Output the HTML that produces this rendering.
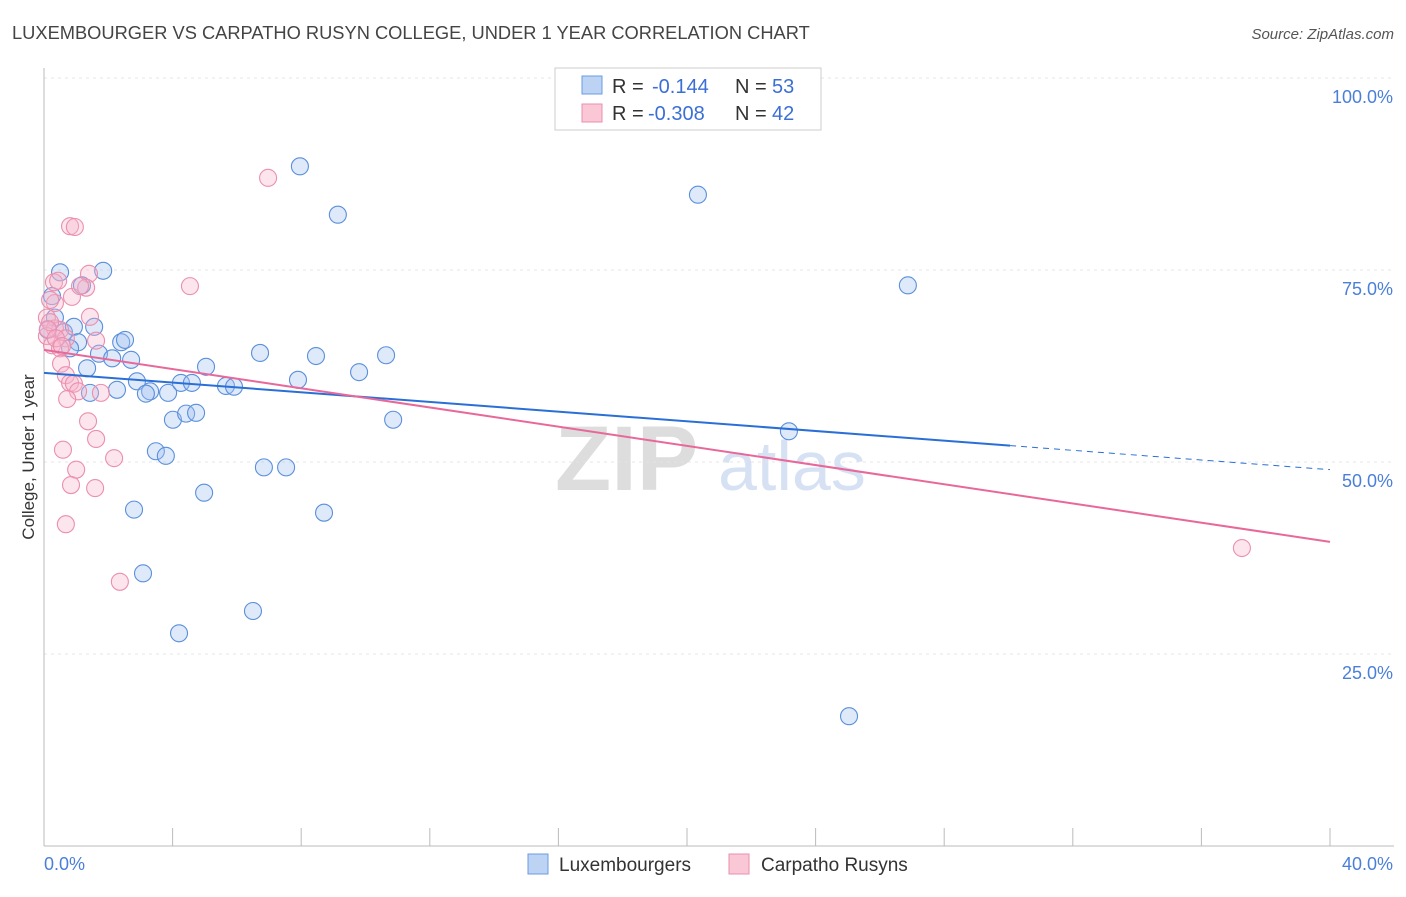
<!DOCTYPE html>
<html><head><meta charset="utf-8"><style>
body{margin:0;background:#fff;font-family:"Liberation Sans",sans-serif;}
svg text{font-family:"Liberation Sans",sans-serif;}
</style></head><body>
<svg id="chart" width="1406" height="892" xmlns="http://www.w3.org/2000/svg">
<text x="12" y="39" font-size="18.3" fill="#444">LUXEMBOURGER VS CARPATHO RUSYN COLLEGE, UNDER 1 YEAR CORRELATION CHART</text>
<text x="1394" y="39" font-size="15" fill="#555" text-anchor="end" font-style="italic">Source: ZipAtlas.com</text>
<g>
<text x="555" y="490" font-size="92" fill="#ddd" font-family="Liberation Serif" font-weight="bold">ZIP</text>
<text x="718" y="490" font-size="70" fill="#d6e2f4">atlas</text>
</g>
<g id="grid"></g>
<g id="axes"></g>
<g id="marks"></g>
<g>
<rect x="555" y="68" width="266" height="62" fill="#fff" stroke="#ccc"/>
<rect x="582" y="76" width="20" height="18" fill="#bcd3f3" stroke="#6a9be0"/>
<rect x="582" y="104" width="20" height="18" fill="#f9c7d6" stroke="#ea8fac"/>
<text x="612" y="93" font-size="20" fill="#333">R =</text>
<text x="652" y="93" font-size="20" fill="#3b6fd6">-0.144</text>
<text x="735" y="93" font-size="20" fill="#333">N =</text>
<text x="772" y="93" font-size="20" fill="#3b6fd6">53</text>
<text x="612" y="120" font-size="20" fill="#333">R =</text>
<text x="648" y="120" font-size="20" fill="#3b6fd6">-0.308</text>
<text x="735" y="120" font-size="20" fill="#333">N =</text>
<text x="772" y="120" font-size="20" fill="#3b6fd6">42</text>
</g>
<text transform="translate(34,457) rotate(-90)" font-size="17" fill="#333" text-anchor="middle">College, Under 1 year</text>
<g>
<rect x="528" y="854" width="20" height="20" fill="#bcd3f3" stroke="#6a9be0"/>
<text x="559" y="871" font-size="19" fill="#333">Luxembourgers</text>
<rect x="729" y="854" width="20" height="20" fill="#f9c7d6" stroke="#ea8fac"/>
<text x="761" y="871" font-size="19" fill="#333">Carpatho Rusyns</text>
</g>
</svg>
<script>
const blueX=[7.96,9.14,20.34,26.87,0.50,1.84,1.18,0.25,0.34,0.12,0.62,0.93,1.56,1.06,0.81,2.40,2.52,1.71,2.12,2.71,1.34,5.04,6.72,8.46,10.64,9.80,2.89,2.27,1.43,3.30,3.17,3.86,4.26,4.60,5.66,5.91,7.90,4.01,4.42,4.73,10.86,23.17,3.48,3.79,6.84,7.53,4.98,2.80,8.71,3.08,6.50,4.20,25.04];
const blueY=[88.5,82.2,84.8,73.0,74.7,74.9,73.0,71.6,68.8,67.2,66.9,67.6,67.6,65.6,64.8,65.6,65.9,64.1,63.5,63.3,62.2,62.4,64.2,63.8,63.9,61.7,60.5,59.4,59.0,59.2,58.9,59.0,60.3,60.3,59.9,59.8,60.7,55.5,56.3,56.4,55.5,54.0,51.4,50.8,49.3,49.3,46.0,43.8,43.4,35.5,30.6,27.7,16.9];
const pinkX=[6.97,0.81,0.96,0.31,0.44,1.40,4.54,1.31,0.87,0.34,0.09,1.43,0.34,0.50,0.09,0.68,1.62,0.25,0.50,0.53,0.68,0.81,0.93,1.06,1.77,0.72,1.37,1.62,0.59,1.00,2.18,0.84,1.59,0.68,2.36,37.26,0.19,0.12,0.37,0.56,0.19,1.12];
const pinkY=[87.0,80.7,80.6,73.4,73.6,74.5,72.9,72.7,71.5,70.7,68.8,68.9,67.4,67.2,66.4,66.1,65.8,65.2,64.8,62.8,61.3,60.3,60.2,59.2,59.0,58.2,55.3,53.0,51.6,49.0,50.5,47.0,46.6,41.9,34.4,38.8,68.2,67.3,66.1,65.1,71.1,72.9];
const blueTrend=[61.6,49.0];
const pinkTrend=[64.6,39.6];
const yTicks=[25,50,75,100];
const yTickLabels=["25.0%","50.0%","75.0%","100.0%"];
const xTicks=[0,4,8,12,16,20,24,28,32,36,40];

const NS="http://www.w3.org/2000/svg";
const X=v=>44+v/40*1286;
const Y=v=>846-v/100*768;
function mk(parent,tag,attrs){const e=document.createElementNS(NS,tag);for(const k in attrs)e.setAttribute(k,attrs[k]);document.getElementById(parent).appendChild(e);return e;}

yTicks.forEach((t,i)=>{
 const l=mk('grid','line',{x1:44,x2:1394,y1:Y(t),y2:Y(t),stroke:'#e4e4e4','stroke-dasharray':'3,4'});
 
 
 const tx=mk('grid','text',{x:1393,y:Y(t)+25,'font-size':18,fill:'#4a7fd8','text-anchor':'end'});
 tx.textContent=yTickLabels[i];
 
 
});
const ax=mk('axes','line',{x1:44,x2:44,y1:68,y2:846,stroke:'#bbb'});


const bx=mk('axes','line',{x1:44,x2:1394,y1:846,y2:846,stroke:'#bbb'});


xTicks.forEach(t=>{
 const l=mk('axes','line',{x1:X(t),x2:X(t),y1:828,y2:846,stroke:'#bbb'});
 
 
});
const xl0=mk('axes','text',{x:44,y:870,'font-size':18,fill:'#4a7fd8'});xl0.textContent=xTicks[0].toFixed(1)+'%';


const xl1=mk('axes','text',{x:1393,y:870,'font-size':18,fill:'#4a7fd8','text-anchor':'end'});xl1.textContent=xTicks[xTicks.length-1].toFixed(1)+'%';



blueX.forEach((v,i)=>{
 const c=mk('marks','circle',{cx:X(v),cy:Y(blueY[i]),r:8.5,fill:'rgba(160,192,238,0.35)',stroke:'#5a8fdc','stroke-width':1.1});
 
 
});
pinkX.forEach((v,i)=>{
 const c=mk('marks','circle',{cx:X(v),cy:Y(pinkY[i]),r:8.5,fill:'rgba(245,180,204,0.35)',stroke:'#eb8fae','stroke-width':1.1});
 
 
});
const bAt=x=>blueTrend[0]+(blueTrend[1]-blueTrend[0])*x/40;
const t1=mk('marks','line',{x1:X(0),y1:Y(bAt(0)),x2:X(30.05),y2:Y(bAt(30.05)),stroke:'#2a6fd6','stroke-width':2});


const t2=mk('marks','line',{x1:X(30.05),y1:Y(bAt(30.05)),x2:X(40),y2:Y(bAt(40)),stroke:'#2a6fd6','stroke-width':1,'stroke-dasharray':'6,5'});


const t3=mk('marks','line',{x1:X(0),y1:Y(pinkTrend[0]),x2:X(40),y2:Y(pinkTrend[1]),stroke:'#e8689a','stroke-width':2});


</script>
</body></html>
